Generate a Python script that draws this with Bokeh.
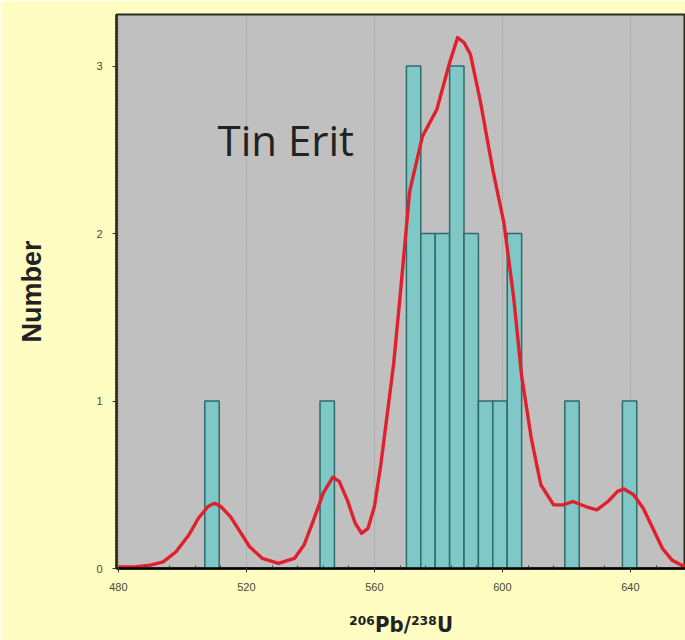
from bokeh.plotting import figure
from bokeh.models import Label, Range1d, FixedTicker
from bokeh.embed import file_html
from bokeh.resources import INLINE

# ---- data ----
bin_left = [507, 543, 570, 574.5, 579, 583.5, 588, 592.5, 597, 601.5, 619.5, 637.5]
counts = [1, 1, 3, 2, 2, 3, 2, 1, 1, 2, 1, 1]
bin_width = 4.5

curve_x = [480, 485, 490, 494, 498, 502, 505, 508, 510, 512, 515, 518, 521, 525, 530,
           535, 538, 541, 544, 547, 549, 551.5, 554, 556, 558, 560, 562, 564, 566, 568,
           571, 575, 579.5, 583.5, 586, 588, 590, 593, 597, 600.5, 603.5, 606, 609, 612,
           616, 619, 622, 626, 629.5, 633, 636, 638, 641, 644, 647, 650, 653, 656, 660]
curve_y = [0.01, 0.01, 0.02, 0.04, 0.10, 0.20, 0.30, 0.37, 0.39, 0.37, 0.31, 0.22, 0.13, 0.06, 0.03,
           0.06, 0.14, 0.29, 0.45, 0.545, 0.52, 0.41, 0.27, 0.21, 0.24, 0.37, 0.62, 0.92, 1.22, 1.62,
           2.25, 2.58, 2.74, 3.02, 3.17, 3.14, 3.07, 2.80, 2.38, 2.06, 1.62, 1.15, 0.78, 0.50,
           0.38, 0.38, 0.40, 0.37, 0.35, 0.40, 0.46, 0.475, 0.44, 0.36, 0.24, 0.12, 0.05, 0.02, 0.01]

x_ticks = [480, 520, 560, 600, 640]
y_ticks = [0, 1, 2, 3]
minor_x = [488, 496, 504, 512, 528, 536, 544, 552, 568, 576, 584, 592, 608, 616, 624, 632, 648, 656]
title_text = "Tin Erit"
x_label = "²⁰⁶Pb/²³⁸U"
y_label = "Number"

YELLOW = "#FFFDC2"
GREY = "#C0C0C0"

# frame geometry (screen px)
FL, FT, FB = 116, 14, 568
X0, XS = 479.4, 3.2      # data x at frame left, px per unit
YS = 167.5               # px per unit y


def dx(px):
    return X0 + (px - FL) / XS


def dy(py):
    return (FB - py) / YS


p = figure(width=685, height=640, output_backend="svg", toolbar_location=None,
           x_range=Range1d(X0, X0 + (685 - FL) / XS), y_range=Range1d(0, (FB - FT) / YS),
           min_border_left=FL, min_border_right=0, min_border_top=FT, min_border_bottom=640 - FB)

p.background_fill_color = GREY
p.border_fill_color = YELLOW
p.outline_line_color = "#2b2b20"
p.outline_line_width = 2

bar_right = [b + bin_width for b in bin_left]
p.quad(left=bin_left, right=bar_right, bottom=0, top=counts,
       fill_color="#80C8C8", line_color="#2E6A6A", line_width=1.5)

p.line(curve_x, curve_y, line_color="#E0202C", line_width=3.4, line_join="round")

# grids
p.ygrid.grid_line_color = None
p.xgrid.ticker = FixedTicker(ticks=x_ticks)
p.xgrid.grid_line_color = "#8a8a8a"
p.xgrid.grid_line_dash = "1 2"
p.xgrid.grid_line_width = 1

TICK_FONT = "Liberation Sans"

# x axis
xa = p.xaxis[0]
xa.ticker = FixedTicker(ticks=x_ticks, minor_ticks=minor_x)
xa.axis_line_color = "black"
xa.axis_line_width = 2.5
xa.major_tick_line_color = "#333"
xa.major_tick_out = 4
xa.major_tick_in = 0
xa.minor_tick_line_color = "#333"
xa.minor_tick_in = 3
xa.minor_tick_out = 0
xa.major_label_text_font = TICK_FONT
xa.major_label_text_font_size = "11px"
xa.major_label_text_color = "#4a4a30"
xa.major_label_standoff = 10
xa.axis_label = x_label
xa.axis_label_text_font = "DejaVu Sans Condensed, DejaVu Sans"
xa.axis_label_text_font_style = "bold"
xa.axis_label_text_font_size = "22px"
xa.axis_label_text_color = "#222"
xa.axis_label_standoff = 18

# y axis
ya = p.yaxis[0]
ya.ticker = FixedTicker(ticks=y_ticks)
ya.axis_line_color = "#2b2b20"
ya.axis_line_width = 2.5
ya.major_tick_line_color = "#333"
ya.major_tick_out = 4
ya.major_tick_in = 0
ya.minor_tick_line_color = None
ya.major_label_text_font = TICK_FONT
ya.major_label_text_font_size = "11px"
ya.major_label_text_color = "#4a4a30"
ya.major_label_standoff = 10
ya.axis_label = y_label
ya.axis_label_text_font = "Liberation Sans"
ya.axis_label_text_font_style = "bold"
ya.axis_label_text_font_size = "27px"
ya.axis_label_text_color = "#222"
ya.axis_label_standoff = 46

p.add_layout(Label(x=dx(217), y=dy(139), text=title_text, text_font="Open Sans",
                   text_font_size="42px", text_color="#222", text_baseline="alphabetic"))

open("out.html", "w").write(file_html(p, INLINE))
